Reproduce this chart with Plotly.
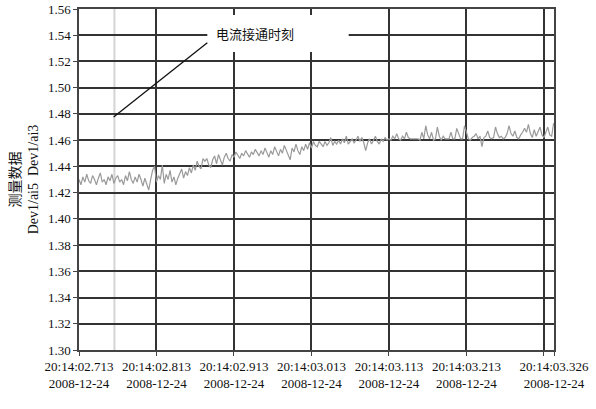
import plotly.graph_objects as go

# ---- data ----
t_start = 2.713          # seconds after 20:14:00
t_step = 0.0025
values = [
    1.430,1.426,1.432,1.428,1.434,1.429,1.427,1.433,1.430,1.426,1.431,1.435,1.428,1.430,1.426,1.432,1.429,1.434,1.427,1.431,
    1.433,1.428,1.430,1.426,1.433,1.429,1.436,1.430,1.427,1.432,1.428,1.434,1.430,1.425,1.431,1.427,1.422,1.430,1.437,1.440,
    1.428,1.433,1.430,1.441,1.427,1.434,1.430,1.437,1.428,1.432,1.426,1.431,1.434,1.438,1.431,1.436,1.433,1.439,1.435,1.441,
    1.437,1.444,1.440,1.438,1.446,1.444,1.446,1.441,1.439,1.445,1.448,1.442,1.449,1.444,1.441,1.447,1.450,1.446,1.444,1.449,
    1.447,1.451,1.448,1.446,1.450,1.448,1.452,1.449,1.447,1.451,1.449,1.453,1.450,1.448,1.452,1.449,1.454,1.450,1.447,1.452,
    1.449,1.455,1.451,1.448,1.453,1.450,1.456,1.452,1.449,1.445,1.454,1.451,1.457,1.452,1.449,1.455,1.452,1.457,1.453,1.458,
    1.454,1.459,1.456,1.455,1.459,1.457,1.455,1.459,1.456,1.458,1.462,1.456,1.459,1.457,1.460,1.457,1.461,1.458,1.463,1.457,
    1.459,1.461,1.458,1.460,1.463,1.459,1.462,1.458,1.452,1.458,1.461,1.457,1.460,1.463,1.459,1.457,1.461,1.459,1.462,1.460,
    1.461,1.460,1.463,1.461,1.465,1.461,1.460,1.463,1.461,1.466,1.462,1.461,1.461,1.461,1.461,1.461,1.460,1.466,1.461,1.471,
    1.464,1.461,1.466,1.460,1.461,1.470,1.463,1.460,1.463,1.461,1.461,1.461,1.466,1.461,1.461,1.469,1.465,1.461,1.461,1.471,
    1.466,1.461,1.460,1.462,1.463,1.465,1.461,1.463,1.455,1.462,1.463,1.467,1.462,1.461,1.462,1.470,1.465,1.462,1.463,1.461,
    1.462,1.465,1.471,1.465,1.463,1.467,1.462,1.461,1.464,1.466,1.469,1.466,1.472,1.465,1.462,1.468,1.463,1.466,1.470,1.464,
    1.462,1.466,1.470,1.464,1.463,1.473,
]
times = [t_start + i * t_step for i in range(len(values))]

x_tick_vals = [2.713, 2.813, 2.913, 3.013, 3.113, 3.213, 3.313, 3.326]
x_tick_text = ["20:14:02.713<br>2008-12-24", "20:14:02.813<br>2008-12-24",
               "20:14:02.913<br>2008-12-24", "20:14:03.013<br>2008-12-24",
               "20:14:03.113<br>2008-12-24", "20:14:03.213<br>2008-12-24",
               "", "20:14:03.326<br>2008-12-24"]
y_tick_vals = [1.30 + 0.02 * i for i in range(14)]

switch_on_time = 2.7587
annot_text = "电流接通时刻"
y_title = "测量数据<br>Dev1/ai5  Dev1/ai3"

x_min, x_max = 2.713, 3.326
y_min, y_max = 1.30, 1.56

fig = go.Figure()
fig.add_trace(go.Scatter(x=times, y=values, mode="lines",
                         line=dict(color="#9a9a9a", width=1.2),
                         hoverinfo="skip", showlegend=False))

# switch-on marker line
fig.add_shape(type="line", x0=switch_on_time, x1=switch_on_time, y0=y_min, y1=y_max,
              xref="x", yref="y", line=dict(color="#d4d4d4", width=2), layer="below")
# white label box
fig.add_shape(type="rect", x0=2.8786, x1=3.061, y0=1.5272, y1=1.5554,
              xref="x", yref="y", fillcolor="white", line=dict(width=0), layer="above")
# leader line
fig.add_shape(type="line", x0=switch_on_time - 0.001, y0=1.4777, x1=2.8786, y1=1.5342,
              xref="x", yref="y", line=dict(color="#111111", width=1.3), layer="above")
fig.add_annotation(x=2.9405, y=1.5415, xref="x", yref="y", text=annot_text,
                   showarrow=False, font=dict(family="Noto Sans CJK SC", size=13, color="#111"))

axis_common = dict(showline=True, linecolor="#444", linewidth=1.5, mirror=True,
                   showgrid=True, gridcolor="#333333", gridwidth=1.5,
                   ticks="outside", ticklen=4, tickcolor="#444", tickwidth=1,
                   zeroline=False, automargin=False,
                   tickfont=dict(family="Liberation Serif", size=13, color="#111"))

fig.update_xaxes(range=[x_min, x_max], tickmode="array", tickvals=x_tick_vals,
                 ticktext=x_tick_text, **axis_common)
fig.update_yaxes(range=[y_min, y_max], tickmode="array", tickvals=y_tick_vals,
                 ticktext=[f"{v:.2f}" for v in y_tick_vals],
                 title=dict(text=y_title, standoff=6,
                            font=dict(family="Liberation Serif, Noto Sans CJK SC", size=14, color="#111")),
                 **axis_common)

fig.update_layout(width=596, height=409, paper_bgcolor="white", plot_bgcolor="white",
                  margin=dict(l=79, r=42, t=9, b=59, autoexpand=False))

fig.write_html("out.html", config={"displayModeBar": False},
               post_script="document.body.style.margin='0';")
